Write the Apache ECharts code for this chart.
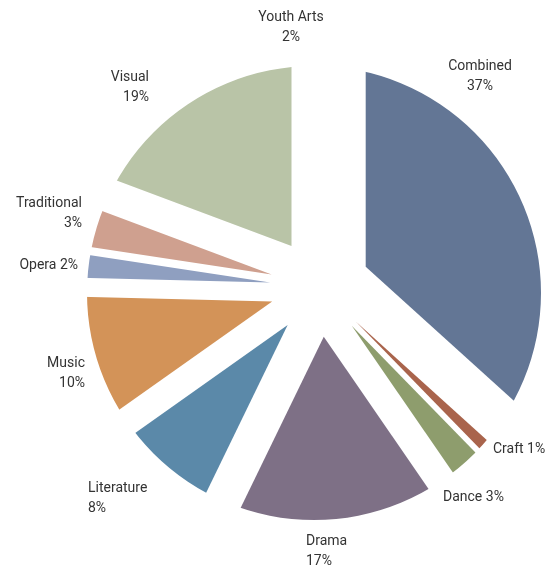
<!DOCTYPE html>
<html>
<head>
<meta charset="utf-8">
<script src="https://cdn.jsdelivr.net/npm/echarts@6/dist/echarts.min.js"></script>
<style>
html,body{margin:0;padding:0;background:#fff;}
#chart{width:552px;height:566px;}
</style>
</head>
<body>
<div id="chart"></div>
<script>
// ---- data ----
const categories = ['Combined', 'Craft', 'Dance', 'Drama', 'Literature', 'Music', 'Opera', 'Traditional', 'Visual', 'Youth Arts'];
// slice shares as drawn (angles measured in the picture)
const shares = [36.7, 1.0, 2.7, 16.8, 8.0, 10.2, 2.0, 3.3, 19.3, 0];
// percentages printed on the labels
const labelPercents = [37, 1, 3, 17, 8, 10, 2, 3, 19, 2];

// ---- styles ----
const colors = ['#637695', '#a9644c', '#8e9d6d', '#7e7086', '#5b89a9', '#d39358', '#8f9fc0', '#cfa08f', '#b9c4a7', '#ffffff'];
const singleLine = {'Craft': true, 'Dance': true, 'Opera': true};
const labelPlace = {
  'Combined':    {x: 480, y: 76,  align: 'center'},
  'Craft':       {x: 493, y: 449, align: 'left'},
  'Dance':       {x: 443, y: 497, align: 'left'},
  'Drama':       {x: 306, y: 551, align: 'left'},
  'Literature':  {x: 88,  y: 498, align: 'left'},
  'Music':       {x: 85,  y: 373, align: 'right'},
  'Opera':       {x: 78,  y: 265, align: 'right'},
  'Traditional': {x: 82,  y: 213, align: 'right'},
  'Visual':      {x: 149, y: 87,  align: 'right'},
  'Youth Arts':  {x: 291, y: 27,  align: 'center'}
};

const sliceData = categories.map((c, i) => ({
  name: c,
  value: shares[i],
  selected: true,
  itemStyle: {color: colors[i]},
  select: {itemStyle: {color: colors[i], borderWidth: 0}}
}));
const labelData = categories.map((c, i) => ({
  name: c,
  value: shares[i],
  pct: labelPercents[i]
}));

const chart = echarts.init(document.getElementById('chart'), null, {renderer: 'canvas'});
chart.setOption({
  animation: false,
  backgroundColor: '#ffffff',
  series: [
    {
      type: 'pie',
      z: 2,
      center: [320, 287],
      radius: [0, 300],
      startAngle: 90,
      clockwise: true,
      selectedMode: 'multiple',
      selectedOffset: 50,
      silent: true,
      emphasis: {disabled: true},
      label: {show: false},
      labelLine: {show: false},
      itemStyle: {borderWidth: 0},
      data: sliceData
    },
    {
      // white surround that trims the exploded slices to the pie outline
      type: 'pie',
      z: 5,
      center: [314, 293],
      radius: [227, 460],
      silent: true,
      emphasis: {disabled: true},
      label: {show: false},
      labelLine: {show: false},
      itemStyle: {color: '#ffffff', borderWidth: 0},
      data: [{value: 1, name: ''}]
    },
    {
      type: 'pie',
      z: 10,
      center: [320, 287],
      radius: [0, 227],
      startAngle: 90,
      clockwise: true,
      silent: true,
      avoidLabelOverlap: false,
      emphasis: {disabled: true},
      itemStyle: {color: 'rgba(0,0,0,0)', borderWidth: 0},
      labelLine: {show: false},
      label: {
        show: true,
        position: 'outside',
        fontFamily: 'Roboto',
        fontSize: 14,
        lineHeight: 20,
        color: '#333333',
        formatter: function (p) {
          const pct = labelPercents[p.dataIndex] + '%';
          return singleLine[p.name] ? p.name + ' ' + pct : p.name + '\n' + pct;
        }
      },
      labelLayout: function (p) {
        const pl = labelPlace[categories[p.dataIndex]];
        return {x: pl.x, y: pl.y, align: pl.align, verticalAlign: 'middle'};
      },
      data: labelData
    }
  ]
});
</script>
</body>
</html>
